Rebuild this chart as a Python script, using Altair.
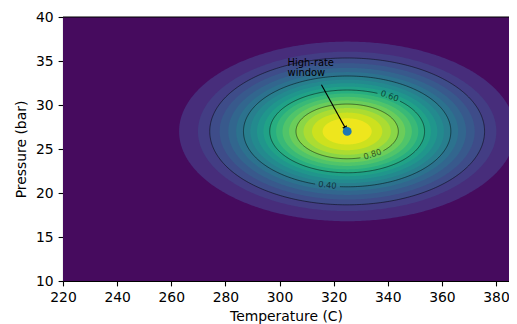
import numpy as np
import pandas as pd
import altair as alt

# ---- values ----
center_T = 325.0
center_P = 27.0
sigma_T = 28.3
sigma_P = 4.65

band_levels = [0.09, 0.15, 0.20, 0.25, 0.30, 0.35, 0.40, 0.45, 0.50,
               0.55, 0.60, 0.65, 0.70, 0.75, 0.80, 0.85, 0.90, 0.95]
band_colors_at = [0.125, 0.175, 0.225, 0.275, 0.325, 0.375, 0.425, 0.475, 0.525,
                  0.575, 0.625, 0.675, 0.725, 0.775, 0.825, 0.875, 0.925, 0.975]
background_color_at = 0.025
line_levels = [0.2, 0.4, 0.6, 0.8]
label_levels = [0.4, 0.6, 0.8]
label_texts = ["0.40", "0.60", "0.80"]
label_theta = [-101.0, 57.0, -60.0]
label_gap = [7.0, 10.0, 15.0]
label_angle = [6, 19, 343]

x_domain = [220, 384.8]
y_domain = [10, 40]
x_ticks = [220, 240, 260, 280, 300, 320, 340, 360, 380]
y_ticks = [10, 15, 20, 25, 30, 35, 40]

point_T = [325.0]
point_P = [27.0]
annot_text = ["High-rate", "window"]
annot_T = [303.0, 303.0]
annot_P = [34.45, 33.25]
arrow_T = [315.5, 324.3]
arrow_P = [32.3, 27.4]


def radius(level):
    return np.sqrt(-2.0 * np.log(level))


# filled bands (nested ellipses)
theta = np.linspace(0, np.pi, 241)
rows = []
for L, c in zip(band_levels, band_colors_at):
    r = radius(L)
    for t in theta:
        rows.append(dict(level=L, mid=c,
                         T=center_T + sigma_T * r * np.cos(t),
                         P=center_P + sigma_P * r * np.sin(t),
                         P2=center_P - sigma_P * r * np.sin(t)))
bands = pd.DataFrame(rows)

background = pd.DataFrame({"T": [x_domain[0]], "T2": [x_domain[1]],
                           "P": [y_domain[0]], "P2": [y_domain[1]],
                           "mid": [background_color_at]})

# contour lines with gaps at labels
lrows = []
for L in line_levels:
    r = radius(L)
    if L in label_levels:
        j = label_levels.index(L)
        start, end = label_theta[j] + label_gap[j], label_theta[j] + 360 - label_gap[j]
    else:
        start, end = 0.0, 360.0
    ts = np.radians(np.linspace(start, end, 361))
    for k, t in enumerate(ts):
        lrows.append(dict(level=L, i=k,
                          T=center_T + sigma_T * r * np.cos(t),
                          P=center_P + sigma_P * r * np.sin(t)))
lines = pd.DataFrame(lrows)

labels = pd.DataFrame({
    "text": label_texts,
    "T": [center_T + sigma_T * radius(L) * np.cos(np.radians(a)) for L, a in zip(label_levels, label_theta)],
    "P": [center_P + sigma_P * radius(L) * np.sin(np.radians(a)) for L, a in zip(label_levels, label_theta)],
    "ang": label_angle,
})

pts = pd.DataFrame({"T": point_T, "P": point_P})
annot = pd.DataFrame({"T": annot_T, "P": annot_P, "text": annot_text})
arrow = pd.DataFrame({"T": arrow_T, "P": arrow_P, "i": [0, 1]})
arrow_head = arrow.iloc[[1]]

xs = alt.Scale(domain=x_domain, nice=False, zero=False)
ys = alt.Scale(domain=y_domain, nice=False, zero=False)
x_axis = alt.Axis(values=x_ticks, title="Temperature (C)", grid=False,
                  labelFlush=False, labelOverlap=False, format="d")
y_axis = alt.Axis(values=y_ticks, title="Pressure (bar)", grid=False,
                  labelOverlap=False, format="d", titlePadding=7)
cs = alt.Scale(scheme="viridis", domain=[0, 1])


def X(f="T"):
    return alt.X(f"{f}:Q", scale=xs, axis=x_axis, title="Temperature (C)")


def Y(f="P"):
    return alt.Y(f"{f}:Q", scale=ys, axis=y_axis, title="Pressure (bar)")


bg = alt.Chart(background).mark_rect(opacity=1).encode(
    x=X(), x2="T2:Q", y=Y(), y2="P2:Q",
    color=alt.Color("mid:Q", scale=cs, legend=None))

band_layer = alt.Chart(bands).mark_area(clip=True, opacity=1, orient="vertical").encode(
    x=X(), y=Y(), y2="P2:Q",
    detail="level:N",
    color=alt.Color("mid:Q", scale=cs, legend=None))

line_layer = alt.Chart(lines).mark_line(clip=True, color="black", strokeWidth=0.8, opacity=0.6).encode(
    x=X(), y=Y(), detail="level:N", order="i:Q")

label_layer = alt.Chart(labels).mark_text(font="DejaVu Sans", fontSize=8.3, color="black",
                                          opacity=0.6, align="center", baseline="middle").encode(
    x=X(), y=Y(), text="text:N", angle=alt.Angle("ang:Q", scale=None))

top_rule = alt.Chart(background).mark_rule(color="black", strokeWidth=1.1).encode(
    x=X(), x2="T2:Q", y=alt.Y("P2:Q", scale=ys, axis=y_axis, title="Pressure (bar)"))

arrow_line = alt.Chart(arrow).mark_line(color="black", strokeWidth=1.1).encode(
    x=X(), y=Y(), order="i:Q")

arrow_tip = alt.Chart(arrow_head).mark_point(shape="triangle", filled=True, size=28,
                                             color="black", opacity=1, angle=151).encode(
    x=X(), y=Y())

point_layer = alt.Chart(pts).mark_circle(size=80, color="#1f77b4", opacity=1).encode(
    x=X(), y=Y())

annot_layer = alt.Chart(annot).mark_text(font="DejaVu Sans", fontSize=9.9, color="black",
                                         align="left", baseline="alphabetic").encode(
    x=X(), y=Y(), text="text:N")

chart = alt.layer(bg, band_layer, line_layer, label_layer, top_rule,
                  arrow_line, arrow_tip, point_layer, annot_layer).properties(
    width=446, height=264,
    autosize=alt.AutoSizeParams(type="none"),
    padding={"left": 55, "top": 9, "right": 0, "bottom": 43},
).configure_axis(
    domainColor="black", domainWidth=1.1, tickColor="black", tickWidth=1.1, tickSize=4.9,
    labelFont="DejaVu Sans", labelFontSize=13.9, labelColor="black",
    titleFont="DejaVu Sans", titleFontSize=13.9, titleFontWeight="normal", titleColor="black",
    labelPadding=4.9, titlePadding=5,
).configure_view(stroke=None)

chart.save("out.html", embed_options={"renderer": "svg", "actions": False})
